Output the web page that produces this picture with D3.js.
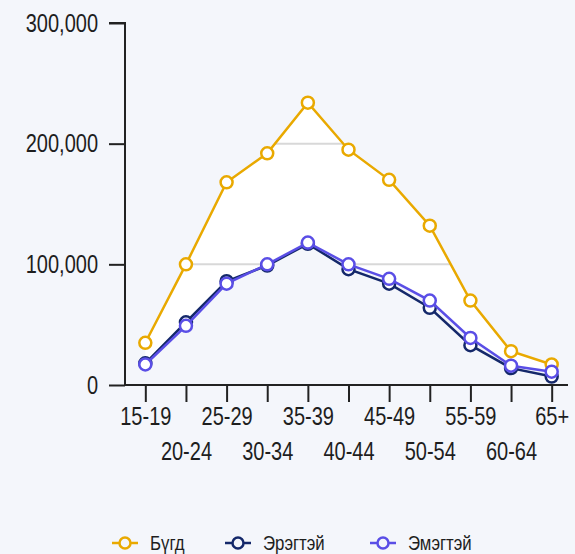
<!DOCTYPE html>
<html>
<head>
<meta charset="utf-8">
<script src="https://cdn.jsdelivr.net/npm/d3@7"></script>
<style>
  body { margin: 0; background: #f4f6fb; }
  svg { display: block; }
  text { font-family: "Liberation Sans", Arial, sans-serif; fill: #1e1e1e; }
</style>
</head>
<body>
<div id="chart"></div>
<script>
(function() {

const w = 575;
const h = 554;
const narrow = 0.8; // squeeze text to look like a narrow face

// age groups
const ages = ["15-19", "20-24", "25-29", "30-34", "35-39", "40-44", "45-49", "50-54", "55-59", "60-64", "65+"];

const total  = [35000, 100000, 168000, 192000, 234000, 195000, 170000, 132000, 70000, 28000, 17000];
const male   = [18000, 52000, 86000, 99000, 117000, 96000, 84000, 64000, 33000, 14000, 7000];
const female = [17000, 49000, 84000, 100000, 118000, 100000, 88000, 70000, 39000, 16000, 11000];

const yTicks = [0, 100000, 200000, 300000];

const seriesNames = ["Бүгд", "Эрэгтэй", "Эмэгтэй"];
const colours = ["#e9a900", "#14286a", "#5a4ee6"];

const margin = {left: 125, right: 3, top: 23, bottom: 169};

function squeeze(sel) {
    sel.each(function() {
        var t = d3.select(this);
        var xv = +t.attr("x") || 0;
        t.attr("x", xv / narrow)
            .attr("transform", "scale(" + narrow + ",1)");
    });
}

const x = d3.scalePoint()
    .domain(ages)
    .range([margin.left, w - margin.right])
    .padding(0.5);

const y = d3.scaleLinear()
    .domain([0, 300000])
    .range([h - margin.bottom, margin.top]);

const svg = d3.select("#chart")
    .append("svg")
    .attr("width", w)
    .attr("height", h);

// white band between total and the others
const band = d3.area()
    .x(function(d, i) { return x(ages[i]); })
    .y0(function(d, i) { return y(Math.max(male[i], female[i])); })
    .y1(function(d) { return y(d); });

svg.append("clipPath")
    .attr("id", "bandclip")
    .append("path")
    .attr("d", band(total));

svg.append("path")
    .attr("d", band(total))
    .attr("fill", "#ffffff");

svg.append("g")
    .attr("clip-path", "url(#bandclip)")
    .selectAll("line")
    .data(yTicks.slice(1))
    .enter()
    .append("line")
    .attr("x1", margin.left)
    .attr("x2", w)
    .attr("y1", function(d) { return y(d); })
    .attr("y2", function(d) { return y(d); })
    .attr("stroke", "#d8d8d8")
    .attr("stroke-width", 2);

// axes
const yAxis = svg.append("g")
    .attr("transform", "translate(" + margin.left + ",0)")
    .call(d3.axisLeft(y)
        .tickValues(yTicks)
        .tickSize(16)
        .tickPadding(11)
        .tickFormat(d3.format(",")));

yAxis.select(".domain").attr("d", "M-16," + y(300000) + "H0V" + y(0));

const xAxis = svg.append("g")
    .attr("transform", "translate(0," + y(0) + ")")
    .call(d3.axisBottom(x).tickSize(17).tickPadding(4));

xAxis.select(".domain").attr("d", "M" + margin.left + ",0H" + (w - 7));

xAxis.selectAll(".tick text")
    .attr("dy", function(d, i) { return i % 2 ? "2.15em" : "0.75em"; });

svg.selectAll(".tick text")
    .style("font-size", "25px")
    .attr("fill", "#1e1e1e")
    .call(squeeze);

svg.selectAll(".domain, .tick line")
    .attr("stroke", "#222")
    .attr("stroke-width", 2);

// lines
const line = d3.line()
    .x(function(d, i) { return x(ages[i]); })
    .y(function(d) { return y(d); });

const dataSeries = [total, male, female];

dataSeries.forEach(function(values, s) {
    const g = svg.append("g");

    g.append("path")
        .attr("d", line(values))
        .attr("fill", "none")
        .attr("stroke", colours[s])
        .attr("stroke-width", 2.5);

    g.selectAll("circle")
        .data(values)
        .enter()
        .append("circle")
        .attr("cx", function(d, i) { return x(ages[i]); })
        .attr("cy", function(d) { return y(d); })
        .attr("r", 6)
        .attr("fill", "#ffffff")
        .attr("stroke", colours[s])
        .attr("stroke-width", 2.5);
});

// legend
const legendX = [125, 238, 383];

const legend = svg.append("g")
    .selectAll("g")
    .data(seriesNames)
    .enter()
    .append("g")
    .attr("transform", function(d, i) { return "translate(" + legendX[i] + ",543)"; });

legend.append("line")
    .attr("x1", -13)
    .attr("x2", 13)
    .attr("stroke", function(d, i) { return colours[i]; })
    .attr("stroke-width", 2.5);

legend.append("circle")
    .attr("r", 5.5)
    .attr("fill", "#f4f6fb")
    .attr("stroke", function(d, i) { return colours[i]; })
    .attr("stroke-width", 2.5);

legend.append("text")
    .attr("x", 25)
    .attr("dy", "0.35em")
    .style("font-size", "21px")
    .text(function(d) { return d; })
    .call(squeeze);

})();
</script>
</body>
</html>
